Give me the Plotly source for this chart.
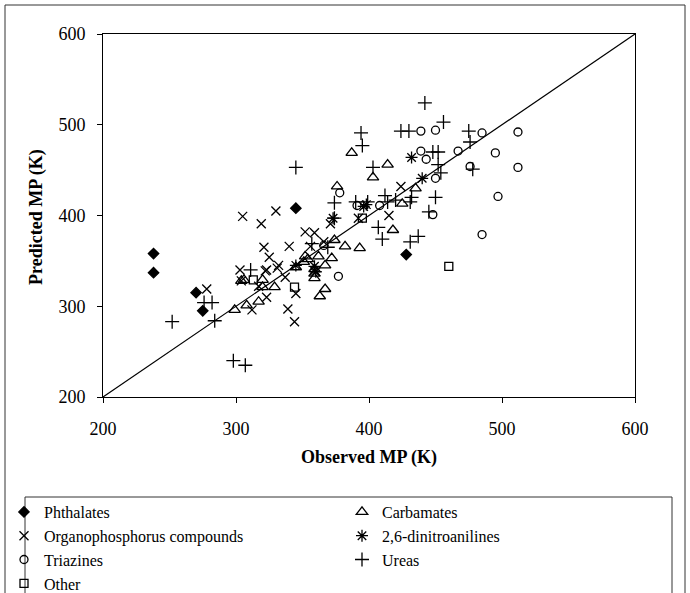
import plotly.graph_objects as go

# ---------------- data ----------------
phth_x = [238, 238, 270, 275, 345, 428]
phth_y = [358, 337, 315, 295, 408, 357]

carb_x = [387, 414, 403, 376, 435, 425, 418, 382, 393, 374, 362, 372, 367, 367, 363,
          359, 359, 352, 351, 345, 329, 320, 317, 308, 299, 304, 306, 320, 359, 354]
carb_y = [469, 456, 442, 432, 430, 413, 384, 366, 364, 373, 355, 353, 345, 319, 311,
          341, 331, 355, 349, 343, 321, 321, 305, 301, 296, 328, 329, 329, 336, 352]

orga_x = [305, 330, 319, 321, 325, 332, 340, 352, 359, 356, 371, 415, 424, 304, 312,
          323, 322, 339, 344, 345, 278, 359, 317, 303, 323, 331, 366, 337, 392]
orga_y = [399, 405, 391, 365, 354, 345, 366, 382, 381, 366, 391, 400, 432, 328, 296,
          310, 339, 297, 283, 314, 319, 339, 322, 340, 340, 342, 371, 332, 397]

dini_x = [432, 440, 396, 373, 360, 345, 359, 398]
dini_y = [464, 441, 410, 397, 338, 345, 344, 412]

tria_x = [439, 450, 485, 512, 439, 443, 467, 495, 476, 512, 450, 497, 378, 391, 408,
          448, 485, 366, 377]
tria_y = [493, 494, 491, 492, 471, 462, 471, 469, 454, 453, 441, 421, 425, 411, 411,
          401, 379, 367, 333]

urea_x = [442, 456, 394, 395, 424, 430, 475, 476, 345, 403, 448, 452, 452, 454, 478,
          412, 414, 450, 445, 374, 390, 399, 420, 432, 431, 374, 407, 410, 437, 431,
          357, 369, 311, 276, 282, 252, 284, 298, 307]
urea_y = [524, 503, 491, 477, 493, 493, 493, 481, 453, 453, 470, 470, 456, 447, 451,
          422, 415, 420, 404, 414, 415, 415, 417, 420, 415, 397, 387, 374, 377, 371,
          369, 365, 340, 304, 304, 283, 284, 240, 235]

other_x = [313, 344, 395, 460]
other_y = [329, 321, 397, 344]

diag = [200, 600]
axis_ticks = [200, 300, 400, 500, 600]

# ---------------- layout geometry ----------------
W, H = 690, 593
ML, MR, MT, MB = 103, 55, 34, 196
PW, PH = W - ML - MR, H - MT - MB
FONT = "Liberation Serif, Times New Roman, Times, serif"


def px_x(p):
    return (p - ML) / PW


def px_y(p):
    return (H - MB - p) / PH


fig = go.Figure()

fig.add_trace(go.Scatter(x=diag, y=diag, mode="lines",
                         line=dict(color="black", width=1.2),
                         showlegend=False, hoverinfo="skip"))

series = [
    ("Phthalates", phth_x, phth_y, "diamond", 8, "legend"),
    ("Organophosphorus compounds", orga_x, orga_y, "x-thin-open", 9, "legend"),
    ("Triazines", tria_x, tria_y, "circle-open", 8, "legend"),
    ("Other", other_x, other_y, "square-open", 8, "legend"),
    ("Carbamates", carb_x, carb_y, "triangle-up-open", 10, "legend2"),
    ("2,6-dinitroanilines", dini_x, dini_y, "asterisk-open", 10, "legend2"),
    ("Ureas", urea_x, urea_y, "cross-thin-open", 10, "legend2"),
]
for name, xs, ys, sym, size, lg in series:
    fig.add_trace(go.Scatter(
        x=xs, y=ys, mode="markers", name=name, legend=lg,
        marker=dict(symbol=sym, size=size, color="black",
                    line=dict(color="black", width=1.3)),
    ))

axis_common = dict(
    range=[200, 600], tickvals=axis_ticks, ticks="outside", ticklen=5,
    tickcolor="black", showline=True, linecolor="black", linewidth=1,
    mirror=True, showgrid=False, zeroline=False,
    tickfont=dict(family=FONT, size=18, color="black"),
)

legend_font = dict(family=FONT, size=16, color="black")

fig.update_layout(
    width=W, height=H,
    margin=dict(l=ML, r=MR, t=MT, b=MB, autoexpand=False),
    paper_bgcolor="white", plot_bgcolor="white",
    font=dict(family=FONT, color="black"),
    xaxis=dict(axis_common, ticklabelstandoff=10,
               title=dict(text="<b>Observed MP (K)</b>", standoff=12,
                          font=dict(family=FONT, size=18, color="black"))),
    yaxis=dict(axis_common, ticklabelstandoff=8),
    legend=dict(xref="container", yref="container", x=4 / W, y=1 - 495 / H,
                xanchor="left", yanchor="top", bgcolor="rgba(0,0,0,0)",
                font=legend_font, itemwidth=30, tracegroupgap=0),
    legend2=dict(xref="container", yref="container", x=342 / W, y=1 - 495 / H,
                 xanchor="left", yanchor="top", bgcolor="rgba(0,0,0,0)",
                 font=legend_font, itemwidth=30, tracegroupgap=0),
    annotations=[
        dict(text="<b>Predicted MP (K)</b>", textangle=-90, showarrow=False,
             xref="paper", yref="paper", x=px_x(36), y=px_y(217),
             xanchor="center", yanchor="middle",
             font=dict(family=FONT, size=18, color="black")),
    ],
    shapes=[
        dict(type="rect", xref="paper", yref="paper",
             x0=px_x(5), x1=px_x(685), y0=px_y(620), y1=px_y(5),
             line=dict(color="#333333", width=1), fillcolor="rgba(0,0,0,0)",
             layer="below"),
        dict(type="rect", xref="paper", yref="paper",
             x0=px_x(25), x1=px_x(672), y0=px_y(620), y1=px_y(497),
             line=dict(color="#333333", width=1), fillcolor="rgba(0,0,0,0)",
             layer="below"),
    ],
)

fig.write_html("out.html")
